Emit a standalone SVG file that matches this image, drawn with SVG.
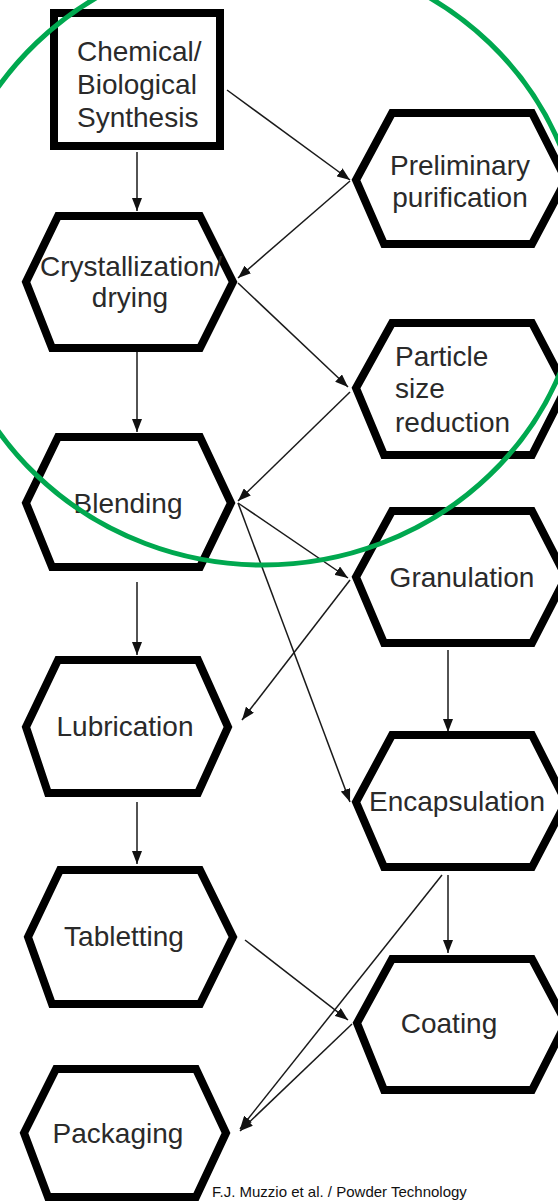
<svg xmlns="http://www.w3.org/2000/svg" width="558" height="1202" viewBox="0 0 558 1202">
<defs>
<marker id="ah" markerUnits="userSpaceOnUse" markerWidth="14" markerHeight="10" refX="13" refY="5" orient="auto">
<path d="M0,0 L13,5 L0,10 Z" fill="#111"/>
</marker>
<style>
.box{fill:#fff;stroke:#000;stroke-width:8;stroke-linejoin:miter}
.t{font-family:"Liberation Sans",Arial,sans-serif;font-size:28px;fill:#2a2a2a}
.m{text-anchor:middle}
.c{fill:none;stroke:#1a1a1a;stroke-width:1.5;marker-end:url(#ah)}
</style>
</defs>
<rect width="558" height="1202" fill="#fff"/>

<g id="connectors">
<path class="c" d="M137,152 L137,211"/>
<path class="c" d="M227,90 L350,180"/>
<path class="c" d="M350,181 L238,278"/>
<path class="c" d="M238,283 L348,387"/>
<path class="c" d="M137,352 L137,432"/>
<path class="c" d="M350,392 L238,501"/>
<path class="c" d="M238,503 L348,578"/>
<path class="c" d="M350,580 L242,720"/>
<path class="c" d="M238,503 L350,802"/>
<path class="c" d="M137,582 L137,655"/>
<path class="c" d="M137,802 L137,864"/>
<path class="c" d="M448,650 L448,732"/>
<path class="c" d="M448,875 L448,953"/>
<path class="c" d="M245,940 L348,1020"/>
<path class="c" d="M442,875 L240,1129"/>
<path class="c" d="M352,1024 L240,1131"/>
</g>

<g id="n-synthesis">
<rect class="box" x="54" y="13" width="166" height="133"/>
<text class="t" x="77" y="61">Chemical/</text>
<text class="t" x="77" y="94">Biological</text>
<text class="t" x="77" y="127">Synthesis</text>
</g>

<g id="n-preliminary">
<polygon class="box" points="392,113 532,113 566,180 532,244 384,244 356,180"/>
<text class="t m" x="460" y="175">Preliminary</text>
<text class="t m" x="460" y="207">purification</text>
</g>

<g id="n-crystallization">
<polygon class="box" points="58,216 200,216 233,282 200,348 52,348 26,282"/>
<text class="t" x="40" y="276">Crystallization/</text>
<text class="t m" x="130" y="307">drying</text>
</g>

<g id="n-particle">
<polygon class="box" points="392,323 532,323 566,388 532,455 384,455 356,388"/>
<text class="t" x="395" y="366">Particle</text>
<text class="t" x="395" y="398">size</text>
<text class="t" x="395" y="432">reduction</text>
</g>

<g id="n-blending">
<polygon class="box" points="58,437 200,437 231,503 200,567 52,567 26,503"/>
<text class="t m" x="128" y="513">Blending</text>
</g>

<g id="n-granulation">
<polygon class="box" points="392,511 532,511 566,577 532,643 384,643 356,577"/>
<text class="t m" x="462" y="587">Granulation</text>
</g>

<g id="n-lubrication">
<polygon class="box" points="58,660 198,660 228,727 198,793 48,793 26,727"/>
<text class="t m" x="125" y="736">Lubrication</text>
</g>

<g id="n-encapsulation">
<polygon class="box" points="392,735 532,735 566,802 532,867 384,867 356,802"/>
<text class="t m" x="457" y="811">Encapsulation</text>
</g>

<g id="n-tabletting">
<polygon class="box" points="60,870 200,870 233,937 200,1004 52,1004 28,937"/>
<text class="t m" x="124" y="946">Tabletting</text>
</g>

<g id="n-coating">
<polygon class="box" points="392,959 532,959 566,1023 532,1090 384,1090 357,1023"/>
<text class="t m" x="449" y="1033">Coating</text>
</g>

<g id="n-packaging">
<polygon class="box" points="56,1069 196,1069 226,1133 196,1197 48,1197 24,1133"/>
<text class="t m" x="118" y="1143">Packaging</text>
</g>

<ellipse cx="263" cy="259" rx="320" ry="306" fill="none" stroke="#00a84f" stroke-width="5"/>

<text x="212" y="1197" style="font-family:'Liberation Sans',Arial,sans-serif;font-size:15px;fill:#111">F.J. Muzzio et al. / Powder Technology</text>
</svg>
